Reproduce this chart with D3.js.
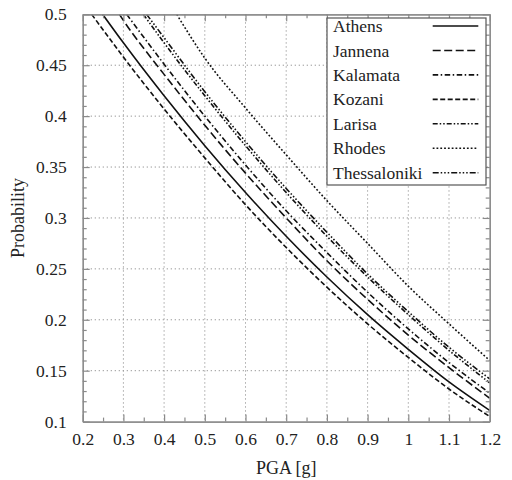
<!DOCTYPE html>
<html><head><meta charset="utf-8">
<script src="https://cdn.jsdelivr.net/npm/d3@7"></script>
<style>body{margin:0;background:#fff} svg text{font-family:"Liberation Serif","Times New Roman",serif !important;}</style>
</head><body>
<svg id="c" width="512" height="480"></svg>
<script>
// ---- data ----
const cities = ["Athens","Jannena","Kalamata","Kozani","Larisa","Rhodes","Thessaloniki"];
const pga = [0.2,0.3,0.4,0.5,0.6,0.7,0.8,0.9,1.0,1.1,1.2];
// PGA where each curve leaves the top edge (P = 0.5)
const startPGA = [0.249,0.290,0.308,0.222,0.349,0.431,0.357];
const athens       = [null,0.472,0.420,0.371,0.325,0.282,0.242,0.205,0.171,0.139,0.111];
const jannena      = [null,0.494,0.441,0.391,0.344,0.300,0.258,0.220,0.185,0.153,0.123];
const kalamata     = [null,null,0.451,0.400,0.352,0.307,0.266,0.227,0.191,0.158,0.128];
const kozani       = [null,0.458,0.407,0.359,0.313,0.271,0.232,0.196,0.163,0.132,0.105];
const larisa       = [null,null,0.472,0.420,0.371,0.325,0.282,0.242,0.205,0.170,0.138];
const rhodes       = [null,null,null,0.457,0.408,0.362,0.317,0.275,0.233,0.196,0.160];
const thessaloniki = [null,null,0.477,0.424,0.375,0.329,0.286,0.245,0.208,0.173,0.142];
const seriesValues = [athens,jannena,kalamata,kozani,larisa,rhodes,thessaloniki];
const xTicks = [0.2,0.3,0.4,0.5,0.6,0.7,0.8,0.9,1,1.1,1.2];
const xTickLabels = ["0.2","0.3","0.4","0.5","0.6","0.7","0.8","0.9","1","1.1","1.2"];
const yTicks = [0.1,0.15,0.2,0.25,0.3,0.35,0.4,0.45,0.5];
const yTickLabels = ["0.1","0.15","0.2","0.25","0.3","0.35","0.4","0.45","0.5"];
const dashes = ["none","8,3.5","5.5,2.5,1.5,2.5","5,2.5","5,2,1.5,2,1.5,2","1.8,2","6,2,1.5,2,1.5,2,1.5,2"];

// ---- layout ----
const L=82.7, R=489.7, T=14.3, B=421.6;
const x = d3.scaleLinear().domain([0.2,1.2]).range([L,R]);
const y = d3.scaleLinear().domain([0.1,0.5]).range([B,T]);
const svg = d3.select("#c");
const font = "Liberation Serif, Times New Roman, serif";
const axisCol = "#8a8a8a";

svg.append("defs").append("clipPath").attr("id","clip")
  .append("rect").attr("x",L).attr("y",T).attr("width",R-L).attr("height",B-T);

// grid
const grid = svg.append("g").attr("stroke","#9a9a9a").attr("stroke-width",1).attr("stroke-dasharray","1.3,2.7");
grid.selectAll(".gx").data(xTicks.slice(1,-1)).join("line")
  .attr("x1",d=>x(d)).attr("x2",d=>x(d)).attr("y1",T).attr("y2",B);
grid.selectAll(".gy").data(yTicks.slice(1,-1)).join("line")
  .attr("y1",d=>y(d)).attr("y2",d=>y(d)).attr("x1",L).attr("x2",R);

// curves
const line = d3.line().defined(d=>d[1]!=null).x(d=>x(d[0])).y(d=>y(d[1])).curve(d3.curveMonotoneX);
const curves = svg.append("g").attr("clip-path","url(#clip)");
seriesValues.forEach((vals,i)=>{
  const pts = [[startPGA[i],0.5]];
  pga.forEach((p,j)=>{ if(vals[j]!=null && p>startPGA[i]) pts.push([p,vals[j]]); });
  curves.append("path").datum(pts).attr("d",line).attr("fill","none")
    .attr("stroke","#111").attr("stroke-width",1.6)
    .attr("stroke-dasharray",dashes[i]);
});

// axes
function styleAxis(g){
  g.attr("font-family",font);
  g.select(".domain").attr("stroke",axisCol).attr("stroke-width",1.2);
  g.selectAll(".tick line").attr("stroke",axisCol).attr("stroke-width",1.2);
  g.selectAll("text").style("font-family",font).style("font-size","17.5px").attr("fill","#222");
}
const minorX = d3.range(0.25,1.2,0.1).map(v=>+v.toFixed(2));
const minorY = d3.range(0.11,0.5,0.01).map(v=>+v.toFixed(2)).filter(v=>Math.round(v*1000)%50!==0);

const bx = svg.append("g").attr("transform",`translate(0,${B})`)
  .call(d3.axisBottom(x).tickValues(xTicks).tickFormat((d,i)=>xTickLabels[i]).tickSizeInner(-7).tickSizeOuter(0).tickPadding(11));
styleAxis(bx);
const bxm = svg.append("g").attr("transform",`translate(0,${B})`)
  .call(d3.axisBottom(x).tickValues(minorX).tickFormat("").tickSizeInner(-4).tickSizeOuter(0));
styleAxis(bxm);
const tx = svg.append("g").attr("transform",`translate(0,${T})`)
  .call(d3.axisTop(x).tickValues(xTicks).tickFormat("").tickSizeInner(-7).tickSizeOuter(0));
styleAxis(tx);
const txm = svg.append("g").attr("transform",`translate(0,${T})`)
  .call(d3.axisTop(x).tickValues(minorX).tickFormat("").tickSizeInner(-4).tickSizeOuter(0));
styleAxis(txm);
const ly = svg.append("g").attr("transform",`translate(${L},0)`)
  .call(d3.axisLeft(y).tickValues(yTicks).tickFormat((d,i)=>yTickLabels[i]).tickSizeInner(-7).tickSizeOuter(0).tickPadding(16));
styleAxis(ly);
const lym = svg.append("g").attr("transform",`translate(${L},0)`)
  .call(d3.axisLeft(y).tickValues(minorY).tickFormat("").tickSizeInner(-4).tickSizeOuter(0));
styleAxis(lym);
const ry = svg.append("g").attr("transform",`translate(${R},0)`)
  .call(d3.axisRight(y).tickValues(yTicks).tickFormat("").tickSizeInner(-7).tickSizeOuter(0));
styleAxis(ry);
const rym = svg.append("g").attr("transform",`translate(${R},0)`)
  .call(d3.axisRight(y).tickValues(minorY).tickFormat("").tickSizeInner(-4).tickSizeOuter(0));
styleAxis(rym);

// legend
const lg = svg.append("g");
lg.append("rect").attr("x",327).attr("y",18).attr("width",159).attr("height",167)
  .attr("fill","#fff").attr("stroke","#555").attr("stroke-width",1.2);
cities.forEach((c,i)=>{
  const cy = 26 + i*24.45;
  lg.append("text").attr("x",333).attr("y",cy).attr("dy","0.35em")
    .style("font-family",font).style("font-size","17.5px").attr("fill","#222").text(c);
  lg.append("line").attr("x1",432.7).attr("x2",478.3).attr("y1",cy).attr("y2",cy)
    .attr("stroke","#111").attr("stroke-width",1.6).attr("stroke-dasharray",dashes[i]);
});

// titles
svg.append("text").attr("x",(L+R)/2).attr("y",474).attr("text-anchor","middle")
  .style("font-family",font).style("font-size","18px").attr("fill","#222").text("PGA [g]");
svg.append("text").attr("transform",`translate(24,${(T+B)/2}) rotate(-90)`).attr("text-anchor","middle")
  .style("font-family",font).style("font-size","18px").attr("fill","#222").text("Probability");
</script></body></html>
